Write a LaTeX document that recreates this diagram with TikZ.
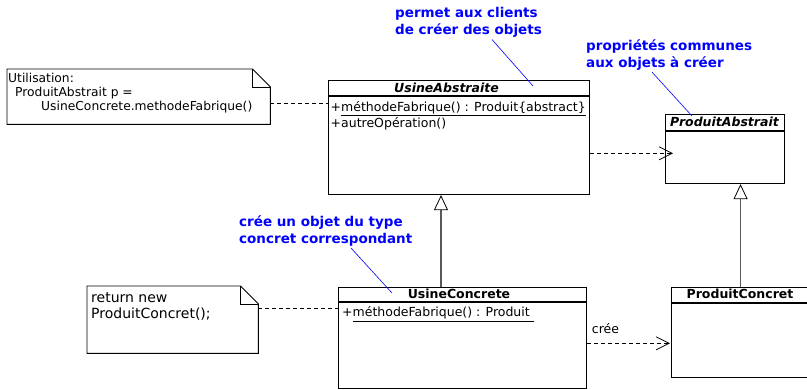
\documentclass[tikz,border=0pt]{standalone}
\usepackage{fontspec}
\setmainfont{DejaVu Sans}
\usetikzlibrary{arrows.meta,positioning,calc}
\tikzset{
  cls/.style={draw,line width=1.1pt,inner sep=0pt,anchor=north west},
  notebox/.style={inner sep=0pt,anchor=north west},
  ttl/.style={anchor=base,inner sep=0pt,font=\fontsize{12.5}{15}\selectfont\bfseries#1},
  ttl/.default={},
  mth/.style={anchor=base west,inner sep=0pt,font=\fontsize{12.5}{15}\selectfont},
  ntxt/.style 2 args={anchor=north west,inner sep=0pt,align=left,font=\fontsize{#1}{#2}\selectfont},
  lbl/.style={anchor=north west,inner sep=0pt,align=left,text=blue,font=\fontsize{13.5}{17}\selectfont\bfseries},
  lead/.style={blue,line width=0.6pt},
  dsh/.style={line width=0.8pt,dash pattern=on 4pt off 3pt},
  dep/.style={dsh,-{Straight Barb[length=13pt,width=13pt,line width=0.8pt]}},
  inh/.style={black!65,line width=1.2pt,-{Triangle[length=15pt,width=14pt,line width=0.8pt,color=black,fill=white]}},
}
\begin{document}
\begin{tikzpicture}[x=1pt,y=-1pt]
 \useasboundingbox (0,0) rectangle (807,389);
 % ---- UsineAbstraite
 \node[cls,minimum width=261pt,minimum height=114pt] (ua) at (328,80) {};
 \draw[line width=1.1pt] ($(ua.north west)+(0,16)$) -- ($(ua.north east)+(0,16)$);
 \node[ttl=\itshape] (uaT) at (446.5,92.7) {UsineAbstraite};
 \node[mth] (uaA) at (330.5,111) {+\underline{méthodeFabrique() : Produit\{abstract\}}};
 \node[mth] (uaB) at (330.5,127) {+autreOpération()};
 % ---- ProduitAbstrait
 \node[cls,minimum width=119pt,minimum height=69pt] (pa) at (665,114) {};
 \draw[line width=1.1pt] ($(pa.north west)+(0,17)$) -- ($(pa.north east)+(0,17)$);
 \node[ttl=\itshape] (paT) at (724.5,126.7) {ProduitAbstrait};
 % ---- UsineConcrete
 \node[cls,minimum width=248pt,minimum height=101pt] (uc) at (338,287) {};
 \draw[line width=1.1pt] ($(uc.north west)+(0,15)$) -- ($(uc.north east)+(0,15)$);
 \node[ttl] (ucT) at (459,298.3) {UsineConcrete};
 \node[mth] (ucA) at (342,316.7) {+\underline{méthodeFabrique() : Produit\ }};
 % ---- ProduitConcret
 \node[cls,minimum width=138pt,minimum height=90pt] (pc) at (671,287) {};
 \draw[line width=1.1pt] ($(pc.north west)+(0,16)$) -- ($(pc.north east)+(0,16)$);
 \node[ttl] (pcT) at (740,298.5) {ProduitConcret};
 % ---- notes
 \node[notebox,minimum width=263pt,minimum height=55pt] (nA) at (7,69) {};
 \draw[line width=0.9pt] (nA.north west) -- ($(nA.north east)+(-18,0)$) -- ($(nA.north east)+(0,18)$) -- (nA.south east) -- (nA.south west) -- cycle;
 \draw[line width=0.9pt] ($(nA.north east)+(-18,0)$) -- ($(nA.north east)+(-18,18)$) -- ($(nA.north east)+(0,18)$);
 \node[ntxt={12.3}{14}] (nAt) at (8,72.5) {Utilisation:\\\hspace*{7pt}ProduitAbstrait p =\\\hspace*{33pt}UsineConcrete.methodeFabrique()};
 \node[notebox,minimum width=171pt,minimum height=67pt] (nB) at (87,286) {};
 \draw[line width=0.9pt] (nB.north west) -- ($(nB.north east)+(-18,0)$) -- ($(nB.north east)+(0,18)$) -- (nB.south east) -- (nB.south west) -- cycle;
 \draw[line width=0.9pt] ($(nB.north east)+(-18,0)$) -- ($(nB.north east)+(-18,18)$) -- ($(nB.north east)+(0,18)$);
 \node[ntxt={14}{16}] (nBt) at (91,292) {return new\\ProduitConcret();};
 \draw[dsh] ($(nA.north east)+(0,34.3)$) -- ($(ua.north west)+(0,23.3)$);
 \draw[dsh] ($(nB.north east)+(0,22.3)$) -- ($(uc.north west)+(0,21.3)$);
 % ---- blue comments
 \node[lbl] (lA) at (395,7) {permet aux clients\\de créer des objets};
 \node[lbl] (lB) at (586,39) {propriétés communes\\aux objets à créer};
 \node[lbl] (lC) at (239,215) {crée un objet du type\\concret correspondant};
 \draw[lead] ($(lA.south west)+(97,2)$) -- ($(ua.north west)+(205,6)$);
 \draw[lead] ($(lB.south west)+(66,2)$) -- ($(pa.north west)+(27,2)$);
 \draw[lead] ($(lC.south west)+(112,2)$) -- ($(uc.north west)+(54,6)$);
 % ---- relations
 \draw[dep] ($(ua.north east)+(0,73.3)$) -- ($(pa.north west)+(8,39.3)$);
 \draw[dep] ($(uc.north east)+(0,56.3)$) -- ($(pc.north west)+(-1,56.3)$);
 \node[mth] (creL) at (591.7,333) {crée};
 \draw[inh] ($(uc.north west)+(103,0)$) -- ($(ua.south west)+(113,0)$);
 \draw[inh] (pc.north) -- (pc.north |- pa.south);
\end{tikzpicture}
\end{document}
